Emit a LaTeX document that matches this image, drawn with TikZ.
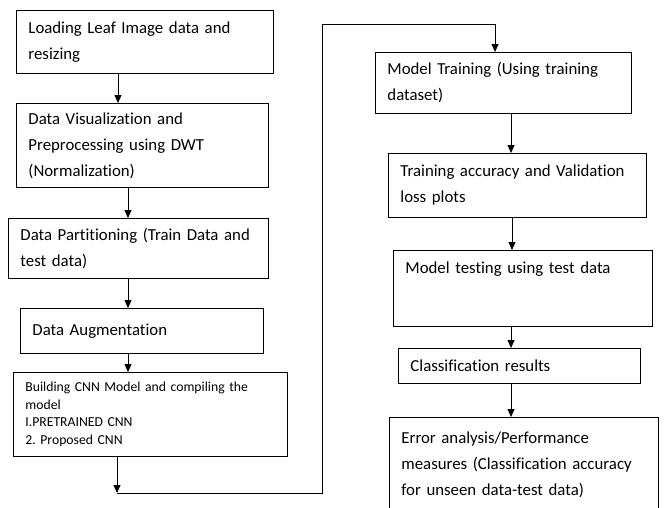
\documentclass[tikz,border=0pt]{standalone}
\usepackage{fontspec}
\setmainfont{Carlito}[Ligatures=NoCommon]
\usepackage{tikz}
\usetikzlibrary{positioning,calc,arrows.meta}
\frenchspacing

\begin{document}
\begin{tikzpicture}[x=1pt, y=-1pt, >={Triangle[width=7pt,length=8pt]},
  box/.style={draw, line width=0.9pt, anchor=north west, align=left, inner xsep=12pt, inner ysep=4pt,
    font=\fontsize{16.8}{26}\selectfont},
  small/.style={font=\fontsize{13.7}{17.5}\selectfont}]
\useasboundingbox (0,0) rectangle (666,507);
\clip (0,0) rectangle (666,507);

% ----------------- Left column -----------------
\node (box1) [box, minimum width=257pt, minimum height=63pt, text width=233pt] at (16,10)
  {Loading Leaf Image data and\\resizing};
\node (box2) [box, minimum width=252pt, minimum height=84pt, text width=228pt] at (16,103)
  {Data Visualization and\\Preprocessing using DWT\\(Normalization)};
\node (box3) [box, minimum width=260pt, minimum height=60pt, text width=236pt] at (8,218)
  {Data Partitioning (Train Data and\\test data)};
\node (box4) [box, minimum width=243pt, minimum height=45pt, text width=219pt] at (20,308)
  {Data Augmentation};
\node (box5) [box, small, minimum width=274pt, minimum height=84pt, text width=250pt] at (13,372)
  {Building CNN Model and compiling the\\model\\I.PRETRAINED CNN\\2. Proposed CNN};

% ----------------- Right column -----------------
\node (box6) [box, minimum width=256pt, minimum height=61pt, text width=232pt] at (375,52)
  {Model Training (Using training\\dataset)};
\node (box7) [box, minimum width=258pt, minimum height=64pt, text width=234pt] at (388,153)
  {Training accuracy and Validation\\loss plots};
\node (box8) [box, minimum width=259pt, minimum height=76pt, text width=235pt] at (393,250)
  {Model testing using test data\\[15pt]\mbox{}};
\node (box9) [box, minimum width=242pt, minimum height=35pt, text width=218pt] at (398,348)
  {Classification results};
\node (box10) [box, minimum width=269pt, minimum height=94pt, text width=245pt] at (389,417)
  {Error analysis/Performance\\measures (Classification accuracy\\for unseen data-test data)};

% ----------------- Arrows -----------------
\coordinate (c1) at (117,493);
\coordinate (c2) at (322,24);
\coordinate (c3) at (495,24);

\draw[->, line width=0.8pt] (box1.south -| 118,0) -- (box2.north -| 118,0);
\draw[->, line width=0.8pt] (box2.south -| 128,0) -- (box3.north -| 128,0);
\draw[->, line width=0.8pt] (box3.south -| 128,0) -- (box4.north -| 128,0);
\draw[->, line width=0.8pt] (box4.south -| 128,0) -- (box5.north -| 128,0);
\draw[->, line width=0.8pt] (box5.south -| c1) -- (c1);
\draw[->, line width=0.8pt] (c1) -| (c2) -- (c3) -- (box6.north -| c3);

\draw[->, line width=0.8pt] (box6.south -| 511,0) -- (box7.north -| 511,0);
\draw[->, line width=0.8pt] (box7.south -| 512,0) -- (box8.north -| 512,0);
\draw[->, line width=0.8pt] (box8.south -| 511,0) -- (box9.north -| 511,0);
\draw[->, line width=0.8pt] (box9.south -| 511,0) -- (box10.north -| 511,0);

\end{tikzpicture}
\end{document}
